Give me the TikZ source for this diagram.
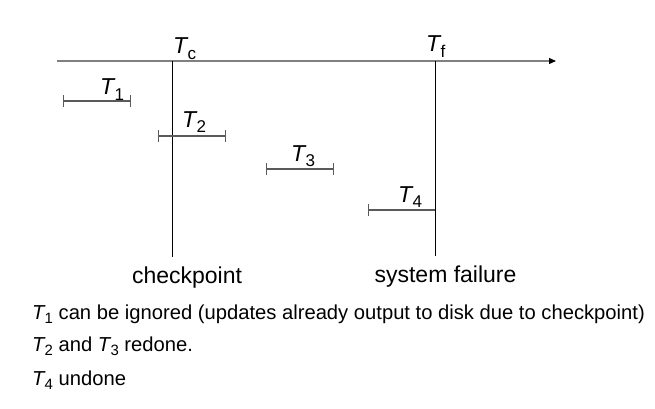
\documentclass[tikz,border=0pt]{standalone}
\usepackage{fontspec}
\setmainfont{Liberation Sans}
\usetikzlibrary{arrows.meta}
\makeatletter
% italic T with an upright, lowered subscript sized from the current font
\newcommand\Tx[1]{\textit{T}\kern-1pt\raisebox{-0.24em}{\fontsize{0.74\dimexpr\f@size pt\relax}{0pt}\selectfont #1}}
\makeatother
\definecolor{axisgray}{HTML}{808080}
\definecolor{bargray}{HTML}{5A5A5A}
\tikzset{
  lbl/.style={inner sep=0pt, anchor=base west, font=\fontsize{23pt}{27pt}\selectfont},
  bigtext/.style={inner sep=0pt, anchor=base, font=\fontsize{23pt}{27pt}\selectfont},
  captext/.style={inner sep=0pt, anchor=base west, font=\fontsize{20.2pt}{24pt}\selectfont},
  timeline/.style={draw=axisgray, line width=1.2pt, -{Triangle[length=7pt,width=6pt,color=black]}},
  marker/.style={draw=black, line width=1pt},
  txn/.style={draw=bargray, line width=1.3pt, {Bar[width=12pt]}-{Bar[width=12pt]}},
  txnopen/.style={draw=bargray, line width=1.3pt, {Bar[width=12pt]}-}
}
\begin{document}
\begin{tikzpicture}[x=1pt,y=-1pt]
\useasboundingbox (0,0) rectangle (655,409);
% time axis
\coordinate (axL) at (57,61);
\coordinate (axR) at (556,61);
\draw[timeline] (axL) -- (axR);
% checkpoint and failure markers
\coordinate (cpTop) at (172,61);
\coordinate (cpBot) at (172,257);
\coordinate (sfTop) at (435,61);
\coordinate (sfBot) at (435,256);
\draw[marker] (cpTop) -- (cpBot);
\draw[marker] (sfTop) -- (sfBot);
\node[lbl] (Tc) at (173,54) {\Tx{c}};
\node[lbl] (Tf) at (426,52) {\Tx{f}};
% transactions
\coordinate (a1) at (63,101);  \coordinate (b1) at (131,101);
\coordinate (a2) at (158,136); \coordinate (b2) at (226,136);
\coordinate (a3) at (266,169); \coordinate (b3) at (334,169);
\coordinate (a4) at (368,210); \coordinate (b4) at (435,210);
\draw[txn] (a1) -- (b1);
\draw[txn] (a2) -- (b2);
\draw[txn] (a3) -- (b3);
\draw[txnopen] (a4) -- (b4);
\node[lbl] (T1) at (100,95) {\Tx{1}};
\node[lbl] (T2) at (182,127) {\Tx{2}};
\node[lbl] (T3) at (291,161) {\Tx{3}};
\node[lbl] (T4) at (398,202) {\Tx{4}};
% marker captions
\node[bigtext] (cp) at (187,283) {checkpoint};
\node[bigtext] (sf) at (445.5,282) {system failure};
% notes
\node[captext] (n1) at (32,319) {\Tx{1} can be ignored (updates already output to disk due to checkpoint)};
\node[captext] (n2) at (32,351) {\Tx{2} and \Tx{3} redone.};
\node[captext] (n3) at (32,385) {\Tx{4} undone};
\end{tikzpicture}
\end{document}
